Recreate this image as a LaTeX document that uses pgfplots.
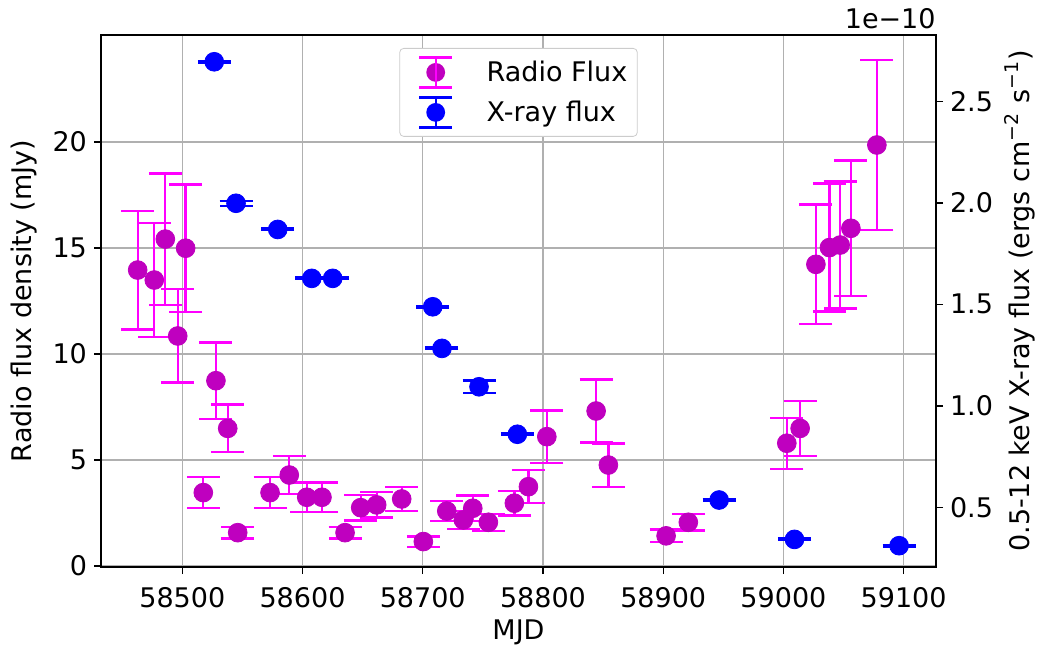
\documentclass[border=0pt]{standalone}
\usepackage{fontspec}
\setmainfont{DejaVu Sans}
\usepackage{pgfplots}
\pgfplotsset{compat=1.18}
\usepackage{pgfplotstable}

\definecolor{radiomark}{rgb}{0.75,0,0.75}
\definecolor{radiobar}{rgb}{1,0,1}
\definecolor{xraycol}{rgb}{0,0,1}
\definecolor{gridgray}{rgb}{0.69,0.69,0.69}
\definecolor{legendedge}{rgb}{0.8,0.8,0.8}

% Radio flux density (mJy) with symmetric 1-sigma errors
\pgfplotstableread{
mjd     flux   err
58462.9 13.96  2.80
58476.7 13.49  2.70
58485.9 15.42  3.10
58496.2 10.85  2.20
58502.8 14.99  3.00
58517.5  3.46  0.73
58528.0  8.74  1.80
58537.8  6.49  1.12
58546.1  1.57  0.28
58573.0  3.46  0.73
58589.0  4.29  0.90
58603.5  3.24  0.70
58616.2  3.24  0.70
58635.4  1.57  0.28
58648.4  2.75  0.60
58661.7  2.88  0.60
58682.5  3.16  0.58
58700.5  1.15  0.24
58720.0  2.59  0.47
58733.8  2.17  0.43
58741.6  2.72  0.60
58754.6  2.06  0.40
58776.2  2.96  0.58
58787.9  3.74  0.78
58803.2  6.10  1.23
58844.2  7.31  1.49
58854.4  4.76  1.02
58902.4  1.42  0.30
58920.9  2.06  0.39
59002.8  5.79  1.20
59013.9  6.49  1.30
59027.0 14.23  2.82
59038.3 15.02  3.02
59047.2 15.14  3.00
59056.1 15.93  3.20
59077.7 19.86  4.00
}\radio

% 0.5-12 keV X-ray flux in units of 1e-10 erg cm^-2 s^-1
\pgfplotstableread{
mjd     flux   err
58526.6 2.695  0.004
58544.7 1.998  0.012
58579.4 1.869  0.004
58607.7 1.628  0.004
58625.1 1.628  0.004
58708.3 1.488  0.005
58716.0 1.283  0.004
58746.8 1.094  0.031
58778.7 0.860  0.004
58946.5 0.536  0.004
59009.2 0.342  0.004
59096.2 0.311  0.004
}\xray

\newcommand\figfont{\fontsize{13.5}{16}\selectfont}

\pgfplotsset{
  twin/.style={
    scale only axis, width=417.5pt, height=266pt,
    xmin=58432.4, xmax=59126.9,
    axis line style={line width=1.3pt},
    tick style={line width=0.7pt, black},
    major tick length=3.5pt, tick align=outside,
    /pgf/number format/assume math mode=true,
    tick label style={font=\figfont},
  },
  radiolegend/.style={legend image code/.code={
    \path[draw=none, fill=none] (0pt,-10pt) rectangle (38.5pt,10pt);
    \fill[radiomark, draw=none] (15pt,0pt) circle (4.7pt);
    \draw[radiobar, line width=1.15pt, fill=none] (15pt,-7.5pt) -- (15pt,7.5pt)
      (6.75pt,-7.5pt) -- (23.25pt,-7.5pt) (6.75pt,7.5pt) -- (23.25pt,7.5pt);
  }},
  xraylegend/.style={legend image code/.code={
    \path[draw=none, fill=none] (0pt,-10pt) rectangle (38.5pt,10pt);
    \fill[xraycol, draw=none] (15pt,0pt) circle (4.7pt);
    \draw[xraycol, line width=1.15pt, fill=none] (15pt,-7.5pt) -- (15pt,7.5pt)
      (6.75pt,-7.5pt) -- (23.25pt,-7.5pt) (6.75pt,7.5pt) -- (23.25pt,7.5pt);
  }},
}

\begin{document}
\begin{tikzpicture}
\begin{axis}[twin, name=main,
  ymin=-0.05, ymax=25.05,
  xtick={58500,58600,58700,58800,58900,59000,59100},
  ytick={0,5,10,15,20},
  xtick pos=bottom, ytick pos=left,
  xticklabel style={/pgf/number format/1000 sep={}, yshift=-3pt},
  scaled x ticks=false,
  grid=major, major grid style={line width=0.6pt, gridgray},
  xlabel={MJD}, ylabel={Radio flux density (mJy)},
  every axis x label/.style={at={(rel axis cs:0.5,0)}, yshift=-32.5pt, anchor=center, font=\figfont},
  every axis y label/.style={at={(rel axis cs:0,0.5)}, xshift=-38.5pt, rotate=90, anchor=center, font=\figfont},
]
% markers first, error bars on top
\addplot[only marks, color=radiomark, mark=*, mark size=4.7pt, mark options={fill=radiomark, draw=none}]
  table[x=mjd, y=flux] {\radio};
\addplot[draw=none, mark=none,
  error bars/.cd, y dir=both, y explicit,
  error bar style={draw=radiobar, line width=1.15pt},
  error mark options={draw=radiobar, line width=1.15pt, mark size=8.25pt, rotate=90}]
  table[x=mjd, y=flux, y error=err] {\radio};
\end{axis}

\begin{axis}[twin,
  axis x line=none, axis y line*=right,
  ymin=0.206, ymax=2.827,
  ytick={0.5,1.0,1.5,2.0,2.5},
  yticklabel style={/pgf/number format/.cd, fixed, fixed zerofill, precision=1},
  ylabel={0.5-12 keV X-ray flux (ergs cm\textsuperscript{−2} s\textsuperscript{−1})},
  every axis y label/.style={at={(rel axis cs:1,0.5)}, xshift=42pt, rotate=90, anchor=center, font=\figfont},
  legend style={at={(0.5,1)}, yshift=-6.5pt, anchor=north, draw=legendedge,
    fill=white, rounded corners=2pt, font=\figfont, inner xsep=3pt, inner ysep=2pt},
  legend cell align=left,
]
\addlegendimage{radiolegend}
\addlegendentry{Radio Flux}
\addplot[only marks, color=xraycol, mark=*, mark size=4.7pt, mark options={fill=xraycol, draw=none}, xraylegend,
  error bars/.cd, y dir=both, y explicit,
  error bar style={draw=xraycol, line width=1.15pt},
  error mark options={draw=xraycol, line width=1.15pt, mark size=8.25pt, rotate=90}]
  table[x=mjd, y=flux, y error=err] {\xray};
\addlegendentry{X-ray flux}
\end{axis}

\node[anchor=base east, font=\figfont, inner sep=0pt] at ([yshift=3pt]main.north east) {1e−10};

\pgfresetboundingbox
\path[use as bounding box] ([xshift=-50.5pt, yshift=-40.5pt]main.south west)
  rectangle ([xshift=51pt, yshift=17.5pt]main.north east);
\end{tikzpicture}
\end{document}
